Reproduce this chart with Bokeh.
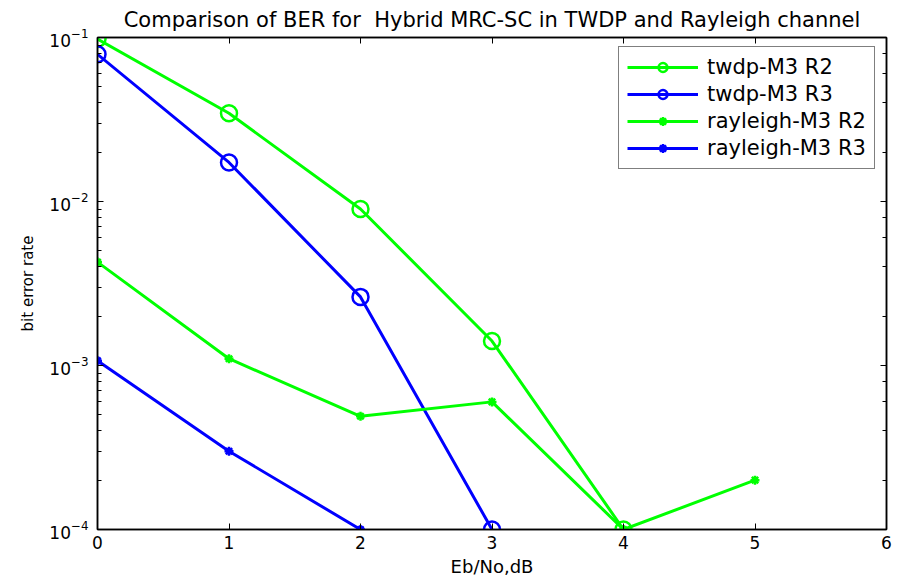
from bokeh.plotting import figure
from bokeh.models import (Range1d, LogAxis, LinearAxis, Legend, LegendItem, FixedTicker,
                          CustomJSTickFormatter)
from bokeh.embed import file_html
from bokeh.resources import INLINE

ebno = [0, 1, 2, 3, 4, 5]
twdp_r2 = [0.098, 0.0345, 0.0090, 0.00141, 0.0001]
twdp_r3 = [0.079, 0.0173, 0.00262, 0.0001]
ray_r2 = [0.00427, 0.0011, 0.00049, 0.0006, 0.0001, 0.0002]
ray_r3 = [0.00107, 0.0003, 0.0001]
xticks = [0, 1, 2, 3, 4, 5, 6]

GREEN = "#00ff00"
BLUE = "#0000ff"
FONT = "DejaVu Sans"

p = figure(width=900, height=584, output_backend="svg", toolbar_location=None,
           y_axis_type="log", x_range=Range1d(0, 6), y_range=Range1d(1e-4, 1e-1),
           title="Comparison of BER for\u00a0 Hybrid MRC-SC in TWDP and Rayleigh channel",
           min_border_left=97, min_border_right=14, min_border_top=36, min_border_bottom=55)
p.title.align = "center"
p.title.text_font = FONT
p.title.text_font_size = "21px"
p.title.text_font_style = "normal"
p.title.text_color = "black"
p.title.standoff = 11
p.grid.visible = False
p.outline_line_color = "black"
p.outline_line_width = 1.5

for ax in [p.xaxis[0], p.yaxis[0]]:
    ax.axis_line_color = "black"
    ax.axis_line_width = 1.5
    ax.major_tick_in = 6
    ax.major_tick_out = 0
    ax.minor_tick_in = 4
    ax.minor_tick_out = 0
    ax.major_tick_line_color = "black"
    ax.minor_tick_line_color = "black"
    ax.major_label_text_font = FONT
    ax.major_label_text_font_size = "17px"
    ax.major_label_text_color = "black"
    ax.axis_label_text_font = FONT
    ax.axis_label_text_font_style = "normal"
    ax.axis_label_text_color = "black"
p.xaxis[0].ticker = FixedTicker(ticks=xticks)
p.xaxis[0].axis_label = "Eb/No,dB"
p.xaxis[0].axis_label_text_font_size = "18px"
p.xaxis[0].major_label_standoff = 6
p.xaxis[0].axis_label_standoff = 4
p.yaxis[0].axis_label = "bit error rate"
p.yaxis[0].axis_label_text_font_size = "15px"
p.yaxis[0].major_label_standoff = 9
p.yaxis[0].axis_label_standoff = 9

rax = LogAxis(major_tick_in=6, major_tick_out=0, minor_tick_in=4, minor_tick_out=0,
              formatter=CustomJSTickFormatter(code="return ''"), major_label_standoff=0,
              axis_line_color="black", axis_line_width=1.5,
              major_tick_line_color="black", minor_tick_line_color="black")
p.add_layout(rax, "right")
tax = LinearAxis(ticker=FixedTicker(ticks=xticks), major_tick_in=6, major_tick_out=0,
                 minor_tick_in=0, minor_tick_out=0,
                 formatter=CustomJSTickFormatter(code="return ''"), major_label_standoff=0,
                 axis_line_color="black", axis_line_width=1.5,
                 major_tick_line_color="black")
p.add_layout(tax, "above")

items = []
series = [
    ("twdp-M3 R2", twdp_r2, GREEN, "circle"),
    ("twdp-M3 R3", twdp_r3, BLUE, "circle"),
    ("rayleigh-M3 R2", ray_r2, GREEN, "asterisk"),
    ("rayleigh-M3 R3", ray_r3, BLUE, "asterisk"),
]
for label, ys, col, mk in series:
    xs = ebno[:len(ys)]
    lr = p.line(xs, ys, line_color=col, line_width=3)
    if mk == "circle":
        sr = p.scatter(xs, ys, marker="circle", size=16, fill_color=None, line_color=col, line_width=2.5)
    else:
        sr = p.scatter(xs, ys, marker="asterisk", size=9, line_color=col, line_width=2.5)
    items.append(LegendItem(label=label, renderers=[lr, sr]))

legend = Legend(items=items, location=(521, 360))
legend.label_text_font = FONT
legend.label_text_font_size = "21px"
legend.label_text_color = "black"
legend.glyph_width = 71
legend.glyph_height = 22
legend.label_height = 22
legend.label_standoff = 9
legend.spacing = 3
legend.padding = 8
legend.margin = 0
legend.border_line_color = "black"
legend.border_line_width = 1.5
legend.background_fill_alpha = 1
p.add_layout(legend)

open("out.html", "w").write(file_html(p, INLINE))
